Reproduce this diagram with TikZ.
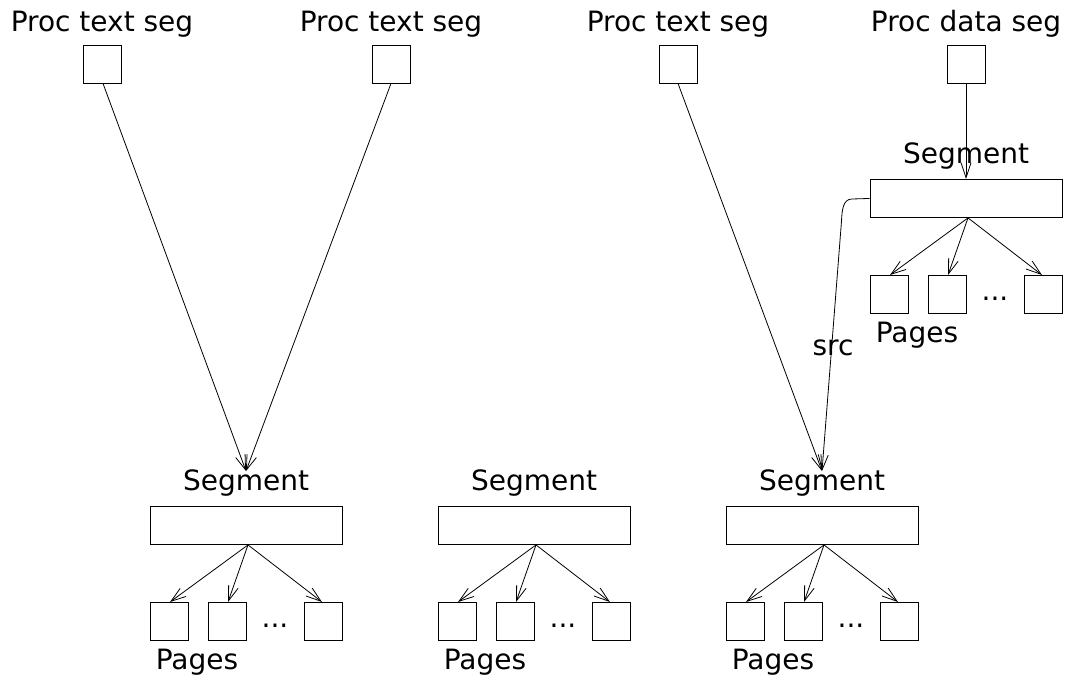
\documentclass[tikz,border=0pt]{standalone}
\usepackage{fontspec}
\setmainfont{DejaVu Sans}
\usetikzlibrary{arrows.meta}
\begin{document}
\begin{tikzpicture}[x=1pt,y=-1pt,
  lbl/.style={inner sep=0pt,font=\fontsize{28}{32}\selectfont},
  sq/.style={draw,line width=0.9pt,minimum width=38pt,minimum height=38pt,inner sep=0pt},
  bar/.style={draw,line width=0.9pt,minimum width=192pt,minimum height=38pt,inner sep=0pt},
  arr/.style={line width=0.8pt,-{Straight Barb[length=15pt,width=10pt,line width=0.8pt]}},
  ln/.style={line width=0.8pt}]
\useasboundingbox (0,0) rectangle (1067,681);

% process segment boxes along the top
\foreach \n/\x/\t in {p1/102/Proc text seg,p2/391/Proc text seg,p3/678/Proc text seg,p4/966/Proc data seg}{
  \node[lbl,anchor=base] (\n lab) at (\x,31) {\t};
  \node[sq] (\n) at (\x,64) {};
}

% a segment with its pages: name, centre x, top y of the bar
\newcommand{\segblock}[3]{%
  \node[lbl,anchor=base] (#1lab) at (#2,#3-16) {Segment};
  \node[bar,anchor=north] (#1) at (#2,#3) {};
  \node[sq,anchor=north] (#1a) at (#2-77,#3+96) {};
  \node[sq,anchor=north] (#1b) at (#2-19,#3+96) {};
  \node[sq,anchor=north] (#1c) at (#2+77,#3+96) {};
  \node[lbl,anchor=base] (#1dots) at (#2+29,#3+121) {...};
  \node[lbl,anchor=base] (#1pg) at (#2-49,#3+163) {Pages};
  \coordinate (#1o) at ([xshift=2pt]#1.south);
  \draw[arr] (#1o) -- ([xshift=1pt]#1a.north);
  \draw[arr] (#1o) -- ([xshift=1pt]#1b.north);
  \draw[arr] (#1o) -- ([xshift=-1pt]#1c.north);
}

\segblock{sA}{246}{506}
\segblock{sB}{534}{506}
\segblock{sC}{822}{506}
\segblock{sR}{966}{179}

% references from the process segments
\draw[arr] ([xshift=1pt]p1.south) -- ([yshift=-2pt]sAlab.north);
\draw[arr] (p2.south) -- ([yshift=-2pt]sAlab.north);
\draw[arr] (p3.south) -- ([yshift=-2pt]sClab.north);
\draw[arr] (p4.south) -- (sR.north);

% src link from the data segment back to the text segment
\coordinate (srcA) at (852,199);
\coordinate (srcB) at (841.5,221);
\draw[ln] (sR.west) -- (srcA) .. controls (843,199) and (842,210) .. (srcB);
\draw[arr] (srcB) -- ([yshift=-2pt]sClab.north);
\node[lbl] (srclab) at (833,348) {src};
\end{tikzpicture}
\end{document}
